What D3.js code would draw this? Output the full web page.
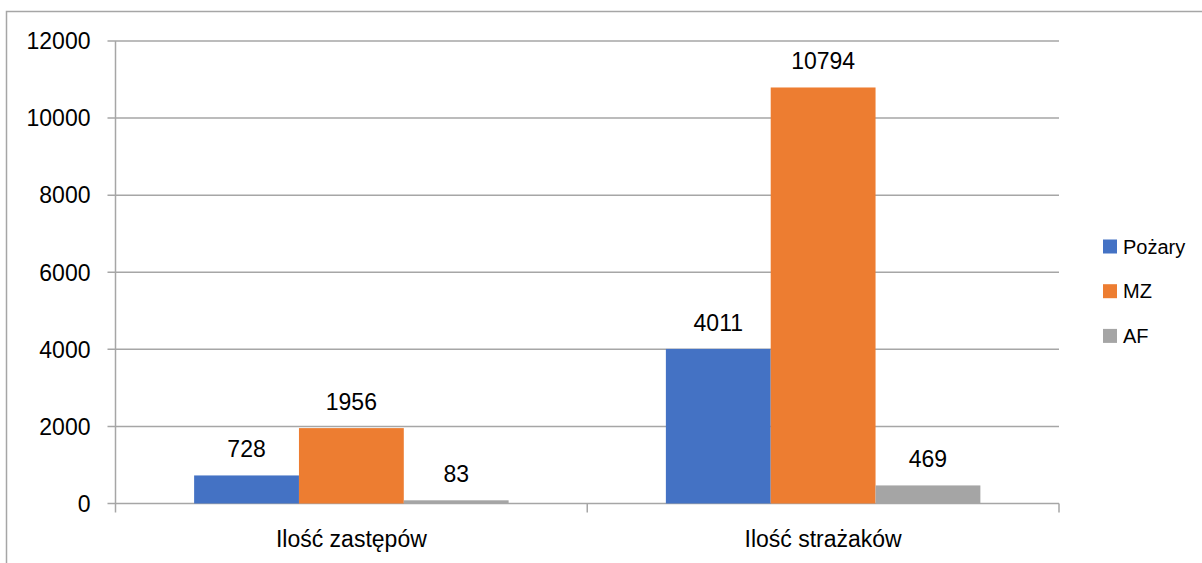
<!DOCTYPE html>
<html>
<head>
<meta charset="utf-8">
<script src="https://cdn.jsdelivr.net/npm/d3@7"></script>
<style>
  body { margin: 0; background: #fff; }
  text { font-family: "Liberation Sans", Arial, sans-serif; fill: #000; }
</style>
</head>
<body>
<div id="chart"></div>
<script>

// data
var categories = ["Ilość zastępów", "Ilość strażaków"];
var seriesNames = ["Pożary", "MZ", "AF"];
var pozary = [728, 4011];
var mz = [1956, 10794];
var af = [83, 469];
var yTicks = [0, 2000, 4000, 6000, 8000, 10000, 12000];
var colors = ["#4472C4", "#ED7D31", "#A5A5A5"];

var seriesValues = [pozary, mz, af];

var width = 1202, height = 563;
var margin = {top: 41, right: 143, bottom: 59.5, left: 115.5};
var plotW = width - margin.left - margin.right,
    plotH = height - margin.top - margin.bottom;

var svg = d3.select("#chart").append("svg")
    .attr("width", width)
    .attr("height", height);

// chart frame
svg.append("rect")
    .attr("x", 6.5)
    .attr("y", 11.5)
    .attr("width", 1240)
    .attr("height", 600)
    .attr("fill", "none")
    .attr("stroke", "#A6A6A6")
    .attr("stroke-width", 1.5);

var g = svg.append("g")
    .attr("transform", "translate(" + margin.left + "," + margin.top + ")");

var x0 = d3.scaleBand()
    .domain(categories)
    .range([0, plotW])
    .paddingInner(0)
    .paddingOuter(0);

// Excel gap width 150% -> bars take 3/4.5 of each band
var groupW = x0.bandwidth() * 3 / 4.5;
var x1 = d3.scaleBand()
    .domain(seriesNames)
    .range([(x0.bandwidth() - groupW) / 2, (x0.bandwidth() + groupW) / 2])
    .padding(0);

var y = d3.scaleLinear()
    .domain([0, 12000])
    .range([plotH, 0]);

// gridlines
g.selectAll(".grid")
    .data(yTicks)
  .enter().append("line")
    .attr("x1", -8)
    .attr("x2", plotW)
    .attr("y1", function(d) { return y(d); })
    .attr("y2", function(d) { return y(d); })
    .attr("stroke", "#A6A6A6")
    .attr("stroke-width", 1.5);

// y axis line
g.append("line")
    .attr("x1", 0).attr("x2", 0)
    .attr("y1", 0).attr("y2", plotH)
    .attr("stroke", "#A6A6A6")
    .attr("stroke-width", 1.5);

// x axis tick marks at category boundaries
var bounds = categories.map(function(c) { return x0(c); }).concat([plotW]);
g.selectAll(".xtick")
    .data(bounds)
  .enter().append("line")
    .attr("x1", function(d) { return d; })
    .attr("x2", function(d) { return d; })
    .attr("y1", plotH)
    .attr("y2", plotH + 9)
    .attr("stroke", "#A6A6A6")
    .attr("stroke-width", 1.5);

// y tick labels
g.selectAll(".ylab")
    .data(yTicks)
  .enter().append("text")
    .attr("x", -25)
    .attr("y", function(d) { return y(d); })
    .attr("dy", "0.36em")
    .attr("text-anchor", "end")
    .attr("font-size", "23px")
    .text(function(d) { return d; });

// bars
var groups = g.selectAll(".grp")
    .data(categories)
  .enter().append("g")
    .attr("transform", function(d) { return "translate(" + x0(d) + ",0)"; });

groups.selectAll("rect")
    .data(function(d, i) {
      return seriesNames.map(function(s, j) { return {s: s, v: seriesValues[j][i], j: j}; });
    })
  .enter().append("rect")
    .attr("x", function(d) { return x1(d.s); })
    .attr("width", x1.bandwidth())
    .attr("y", function(d) { return y(d.v); })
    .attr("height", function(d) { return plotH - y(d.v); })
    .attr("fill", function(d) { return colors[d.j]; });

groups.selectAll(".val")
    .data(function(d, i) {
      return seriesNames.map(function(s, j) { return {s: s, v: seriesValues[j][i]}; });
    })
  .enter().append("text")
    .attr("x", function(d) { return x1(d.s) + x1.bandwidth() / 2; })
    .attr("y", function(d) { return y(d.v) - 18; })
    .attr("text-anchor", "middle")
    .attr("font-size", "23px")
    .text(function(d) { return d.v; });

// category labels
g.selectAll(".xlab")
    .data(categories)
  .enter().append("text")
    .attr("x", function(d) { return x0(d) + x0.bandwidth() / 2; })
    .attr("y", plotH + 43)
    .attr("text-anchor", "middle")
    .attr("font-size", "23px")
    .text(function(d) { return d; });

// legend
var legend = svg.selectAll(".leg")
    .data(seriesNames)
  .enter().append("g")
    .attr("transform", function(d, i) { return "translate(1103," + (246.5 + i * 44.7) + ")"; });

legend.append("rect")
    .attr("x", 0)
    .attr("y", -7)
    .attr("width", 14)
    .attr("height", 14)
    .attr("fill", function(d, i) { return colors[i]; });

legend.append("text")
    .attr("x", 20)
    .attr("y", 0)
    .attr("dy", "0.36em")
    .attr("font-size", "20px")
    .text(function(d) { return d; });

</script>
</body>
</html>
